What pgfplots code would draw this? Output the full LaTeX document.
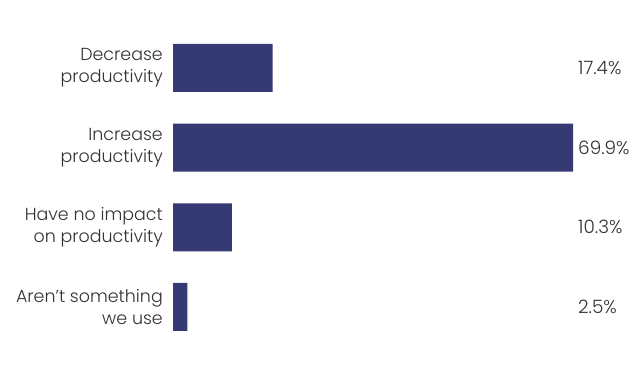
\documentclass[border=0pt]{standalone}
\usepackage{pgfplots}
\pgfplotsset{compat=1.18}
\usepackage{fontspec}
\setmainfont{Poppins}[UprightFont=* Light]
\definecolor{barc}{RGB}{54,58,116}
\definecolor{txt}{RGB}{50,50,50}
\begin{document}
\begin{tikzpicture}[x=1bp,y=1bp]
\path[use as bounding box] (0,0) rectangle (640,374);
\begin{axis}[
  at={(173bp,27.2bp)}, anchor=south west,
  scale only axis, width=400bp, height=318.8bp,
  xmin=0, xmax=69.9, ymin=-0.5, ymax=3.5,
  axis line style={draw=none},
  xtick=\empty,
  ytick={0,1,2,3},
  yticklabels={{Aren't something\\we use},{Have no impact\\on productivity},{Increase\\productivity},{Decrease\\productivity}},
  tick style={draw=none},
  major tick length=0pt,
  yticklabel style={align=right, font=\fontsize{17.5}{22}\selectfont, text=txt, inner xsep=0pt, xshift=-10bp},
  clip=false,
]
\addplot[xbar, bar width=48bp, fill=barc, draw=none] coordinates {(2.5,0) (10.3,1) (69.9,2) (17.4,3)};
\addplot[draw=none, mark=none, nodes near coords, point meta=explicit symbolic,
  nodes near coords style={anchor=west, inner xsep=0pt, font=\fontsize{18.5}{22}\selectfont, text=txt}]
  table[meta=lab] {
x y lab
70.77 0 2.5\%
70.77 1 10.3\%
70.77 2 69.9\%
70.77 3 17.4\%
};
\end{axis}
\end{tikzpicture}
\end{document}
